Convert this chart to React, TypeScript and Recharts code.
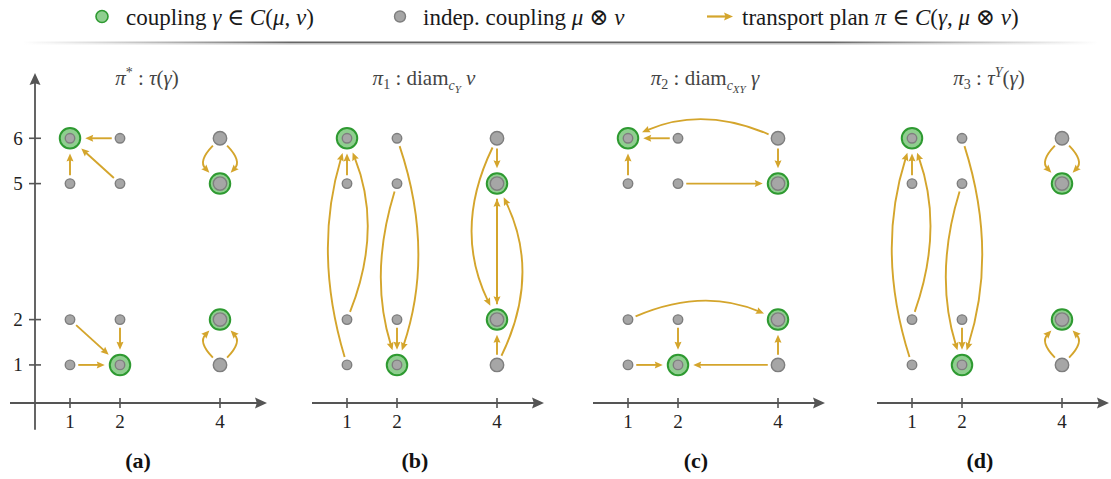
import React from 'react';
import { ScatterChart, Scatter, XAxis, YAxis, ReferenceLine } from 'recharts';

// ---------- data ----------
const X_TICKS = [1, 2, 4];
const Y_TICKS = [1, 2, 5, 6];

// independent coupling mu ⊗ nu (mu = (1/4,1/4,1/2) on {1,2,4}, nu uniform on {1,2,5,6})
const INDEP_POINTS = [
  { x: 1, y: 1, mass: 1 / 16 },
  { x: 1, y: 2, mass: 1 / 16 },
  { x: 1, y: 5, mass: 1 / 16 },
  { x: 1, y: 6, mass: 1 / 16 },
  { x: 2, y: 1, mass: 1 / 16 },
  { x: 2, y: 2, mass: 1 / 16 },
  { x: 2, y: 5, mass: 1 / 16 },
  { x: 2, y: 6, mass: 1 / 16 },
  { x: 4, y: 1, mass: 1 / 8 },
  { x: 4, y: 2, mass: 1 / 8 },
  { x: 4, y: 5, mass: 1 / 8 },
  { x: 4, y: 6, mass: 1 / 8 },
];

// coupling gamma
const GAMMA_POINTS = [
  { x: 1, y: 6, mass: 1 / 4 },
  { x: 2, y: 1, mass: 1 / 4 },
  { x: 4, y: 2, mass: 1 / 4 },
  { x: 4, y: 5, mass: 1 / 4 },
];

// transport plans: [fromX, fromY, toX, toY]
const PLAN_A = [
  [2, 6, 1, 6], [1, 5, 1, 6], [2, 5, 1, 6], [4, 6, 4, 5], [4, 6, 4, 5],
  [1, 2, 2, 1], [2, 2, 2, 1], [1, 1, 2, 1], [4, 1, 4, 2], [4, 1, 4, 2],
];
const PLAN_B = [
  [1, 5, 1, 6], [1, 1, 1, 6], [1, 2, 1, 6], [2, 6, 2, 1], [2, 5, 2, 1], [2, 2, 2, 1],
  [4, 6, 4, 5], [4, 6, 4, 2], [4, 5, 4, 2], [4, 2, 4, 5], [4, 1, 4, 2], [4, 1, 4, 5],
];
const PLAN_C = [
  [2, 6, 1, 6], [1, 5, 1, 6], [4, 6, 1, 6], [4, 6, 4, 5], [2, 5, 4, 5],
  [1, 2, 4, 2], [2, 2, 2, 1], [1, 1, 2, 1], [4, 1, 2, 1], [4, 1, 4, 2],
];
const PLAN_D = [
  [1, 5, 1, 6], [1, 1, 1, 6], [1, 2, 1, 6], [2, 6, 2, 1], [2, 5, 2, 1], [2, 2, 2, 1],
  [4, 6, 4, 5], [4, 6, 4, 5], [4, 1, 4, 2], [4, 1, 4, 2],
];

// ---------- arrow curvature (px bulge, + = left of travel direction) ----------
const BEND_A = [0, 0, 0, 11, -11, 0, 0, 0, 11, -11];
const BEND_B = [0, 17, -18, 19, -14, 0, 0, -22, 0, 0, 0, -22];
const BEND_C = [0, 0, -16, 0, 0, 16, 0, 0, 0, 0];
const BEND_D = [0, 18, -16, 18, -14, 0, 11, -11, 11, -11];

// ---------- styles ----------
const SERIF = '"Liberation Serif", "DejaVu Serif", serif';
const GOLD = '#d4a52c';
const AXIS_COLOR = '#555555';
const GREEN_FILL = '#8fce8f';
const GREEN_STROKE = '#2e9a31';
const GRAY_FILL = '#a6a6a6';
const GRAY_STROKE = '#7e7e7e';

const X_DOMAIN: [number, number] = [0.3, 4.94];
const Y_DOMAIN: [number, number] = [0.16, 7.44];

const grayR = (m: number) => 19 * Math.sqrt(m);
const greenR = (m: number) => 20.5 * Math.sqrt(m);

const isGamma = (x: number, y: number) => GAMMA_POINTS.some((p) => p.x === x && p.y === y);
const indepMass = (x: number, y: number) => {
  const p = INDEP_POINTS.find((q) => q.x === x && q.y === y);
  return p ? p.mass : 1 / 16;
};

function unit(dx: number, dy: number): [number, number] {
  const l = Math.hypot(dx, dy) || 1;
  return [dx / l, dy / l];
}

function arrowPath(p: any, opt: { bend: number; gap0: number; gap1: number; color: string; width: number; headLen: number; headW: number }) {
  const { x1, y1, x2, y2 } = p;
  if (![x1, y1, x2, y2].every((v: any) => Number.isFinite(v))) return <g />;
  const dx = x2 - x1;
  const dy = y2 - y1;
  const L = Math.hypot(dx, dy) || 1;
  const nx = dy / L;
  const ny = -dx / L;
  const cx = (x1 + x2) / 2 + nx * 2 * opt.bend;
  const cy = (y1 + y2) / 2 + ny * 2 * opt.bend;
  const u0 = unit(cx - x1, cy - y1);
  const u1 = unit(cx - x2, cy - y2);
  const sx = x1 + u0[0] * opt.gap0;
  const sy = y1 + u0[1] * opt.gap0;
  const ex = x2 + u1[0] * opt.gap1;
  const ey = y2 + u1[1] * opt.gap1;
  const tx = -u1[0];
  const ty = -u1[1];
  const bx = ex - tx * opt.headLen;
  const by = ey - ty * opt.headLen;
  const px = -ty;
  const py = tx;
  const lx = ex - tx * opt.headLen * 0.7;
  const ly = ey - ty * opt.headLen * 0.7;
  const d = opt.bend === 0 ? `M${sx},${sy} L${lx},${ly}` : `M${sx},${sy} Q${cx},${cy} ${lx},${ly}`;
  const hw = opt.headW / 2;
  const head = `M${ex},${ey} L${bx + px * hw},${by + py * hw} L${bx + tx * opt.headLen * 0.15},${by + ty * opt.headLen * 0.15} L${bx - px * hw},${by - py * hw} Z`;
  return (
    <g>
      <path d={d} fill="none" stroke={opt.color} strokeWidth={opt.width} strokeLinecap="butt" />
      <path d={head} fill={opt.color} stroke="none" />
    </g>
  );
}

const GreenDot = (p: any) => (
  <circle cx={p.cx} cy={p.cy} r={greenR(p.payload.mass)} fill={GREEN_FILL} stroke={GREEN_STROKE} strokeWidth={2} />
);
const GrayDot = (p: any) => (
  <circle cx={p.cx} cy={p.cy} r={grayR(p.payload.mass)} fill={GRAY_FILL} stroke={GRAY_STROKE} strokeWidth={1.4} />
);

const XTick = (p: any) => (
  <g>
    <line x1={p.x} x2={p.x} y1={p.y - 5} y2={p.y + 5} stroke={AXIS_COLOR} strokeWidth={1.6} />
    <text x={p.x} y={p.y + 25} textAnchor="middle" fontFamily={SERIF} fontSize={19} fill="#222">
      {p.payload.value}
    </text>
  </g>
);
const YTick = (p: any) => (
  <g>
    <line x1={p.x - 6} x2={p.x + 6} y1={p.y} y2={p.y} stroke={AXIS_COLOR} strokeWidth={1.6} />
    <text x={p.x - 17} y={p.y + 6.5} textAnchor="middle" fontFamily={SERIF} fontSize={19} fill="#222">
      {p.payload.value}
    </text>
  </g>
);

type PanelProps = { left: number; plan: number[][]; bends: number[]; showY: boolean };

function Panel({ left, plan, bends, showY }: PanelProps) {
  const axisOpt = { bend: 0, gap0: 0, gap1: 0, color: AXIS_COLOR, width: 1.8, headLen: 12, headW: 11 };
  const xAxisStart = showY ? -0.2 : X_DOMAIN[0];
  return (
    <div style={{ position: 'absolute', left, top: 0 }}>
      <ScatterChart width={275} height={479} margin={{ top: 73, right: 8, bottom: 46, left: showY ? 0 : 35 }}>
        <XAxis
          type="number"
          dataKey="x"
          domain={X_DOMAIN}
          allowDataOverflow
          ticks={X_TICKS}
          interval={0}
          axisLine={false}
          tickLine={false}
          tickSize={0}
          tickMargin={0}
          height={30}
          tick={XTick}
        />
        <YAxis
          type="number"
          dataKey="y"
          domain={Y_DOMAIN}
          allowDataOverflow
          ticks={Y_TICKS}
          interval={0}
          axisLine={false}
          tickLine={false}
          tickSize={0}
          tickMargin={0}
          width={35}
          hide={!showY}
          tick={YTick}
        />
        <ReferenceLine
          segment={[{ x: xAxisStart, y: Y_DOMAIN[0] }, { x: X_DOMAIN[1], y: Y_DOMAIN[0] }]}
          ifOverflow="visible"
          shape={(p: any) => arrowPath(p, axisOpt)}
        />
        {showY && (
          <ReferenceLine
            segment={[{ x: X_DOMAIN[0], y: -0.43 }, { x: X_DOMAIN[0], y: Y_DOMAIN[1] }]}
            ifOverflow="visible"
            shape={(p: any) => arrowPath(p, axisOpt)}
          />
        )}
        {plan.map((a, i) => {
          const [fx, fy, tx, ty] = a;
          const gap0 = isGamma(fx, fy) ? greenR(1 / 4) + 5 : grayR(indepMass(fx, fy)) + 3.5;
          const gap1 = greenR(1 / 4) + 5;
          const opt = { bend: bends[i], gap0, gap1, color: GOLD, width: 1.9, headLen: 8, headW: 7 };
          return (
            <ReferenceLine
              key={`arr-${i}`}
              segment={[{ x: fx, y: fy }, { x: tx, y: ty }]}
              ifOverflow="visible"
              shape={(p: any) => arrowPath(p, opt)}
            />
          );
        })}
        <Scatter data={GAMMA_POINTS} shape={GreenDot} isAnimationActive={false} />
        <Scatter data={INDEP_POINTS} shape={GrayDot} isAnimationActive={false} />
      </ScatterChart>
    </div>
  );
}

const I = ({ children }: { children: React.ReactNode }) => <tspan fontStyle="italic">{children}</tspan>;

function Overlay() {
  const titleProps = { textAnchor: 'middle' as const, fontFamily: SERIF, fontSize: 21, fill: '#444' };
  const labelProps = { textAnchor: 'middle' as const, fontFamily: SERIF, fontSize: 22, fontWeight: 700, fill: '#111' };
  const plotLefts = [35, 312, 593, 877];
  const ty = 85;
  return (
    <svg width={1111} height={479} style={{ position: 'absolute', left: 0, top: 0, pointerEvents: 'none' }}>
      <defs>
        <linearGradient id="sep" x1="0" x2="1" y1="0" y2="0">
          <stop offset="0" stopColor="#888" stopOpacity="0" />
          <stop offset="0.25" stopColor="#666" stopOpacity="1" />
          <stop offset="0.75" stopColor="#666" stopOpacity="1" />
          <stop offset="1" stopColor="#888" stopOpacity="0" />
        </linearGradient>
        <linearGradient id="sep2" x1="0" x2="1" y1="0" y2="0">
          <stop offset="0" stopColor="#bbb" stopOpacity="0" />
          <stop offset="0.25" stopColor="#bbb" stopOpacity="1" />
          <stop offset="0.75" stopColor="#bbb" stopOpacity="1" />
          <stop offset="1" stopColor="#bbb" stopOpacity="0" />
        </linearGradient>
      </defs>
      {/* legend */}
      <g fontFamily={SERIF} fontSize={23} fill="#1a1a1a">
        <circle cx={102} cy={16.5} r={6} fill={GREEN_FILL} stroke={GREEN_STROKE} strokeWidth={1.6} />
        <text x={126} y={25}>
          coupling <I>γ</I> ∈ <I>C</I>(<I>μ</I>, <I>ν</I>)
        </text>
        <circle cx={400} cy={16.5} r={5.5} fill={GRAY_FILL} stroke={GRAY_STROKE} strokeWidth={1.4} />
        <text x={423} y={25}>
          indep. coupling <I>μ</I> ⊗ <I>ν</I>
        </text>
        <line x1={707} x2={726} y1={16.5} y2={16.5} stroke={GOLD} strokeWidth={2.2} />
        <path d="M733,16.5 L724,12.5 L725.5,16.5 L724,20.5 Z" fill={GOLD} />
        <text x={742} y={25}>
          transport plan <I>π</I> ∈ <I>C</I>(<I>γ</I>, <I>μ</I> ⊗ <I>ν</I>)
        </text>
      </g>
      <rect x={22} y={41.5} width={1076} height={1.6} fill="url(#sep)" />
      <rect x={22} y={43.1} width={1076} height={1.4} fill="url(#sep2)" />
      {/* titles */}
      <text x={plotLefts[0] + 112} y={ty} {...titleProps}>
        <I>π</I>
        <tspan dy={-8} fontSize={14}>*</tspan>
        <tspan dy={8}> : </tspan>
        <I>τ</I>(<I>γ</I>)
      </text>
      <text x={plotLefts[1] + 112} y={ty} {...titleProps}>
        <I>π</I>
        <tspan dy={4} fontSize={14}>1</tspan>
        <tspan dy={-4}> : diam</tspan>
        <tspan dy={5} fontSize={14} fontStyle="italic">c</tspan>
        <tspan dy={3} fontSize={11} fontStyle="italic">Y</tspan>
        <tspan dy={-8}> </tspan>
        <I>ν</I>
      </text>
      <text x={plotLefts[2] + 112} y={ty} {...titleProps}>
        <I>π</I>
        <tspan dy={4} fontSize={14}>2</tspan>
        <tspan dy={-4}> : diam</tspan>
        <tspan dy={5} fontSize={14} fontStyle="italic">c</tspan>
        <tspan dy={3} fontSize={11} fontStyle="italic">XY</tspan>
        <tspan dy={-8}> </tspan>
        <I>γ</I>
      </text>
      <text x={plotLefts[3] + 112} y={ty} {...titleProps}>
        <I>π</I>
        <tspan dy={4} fontSize={14}>3</tspan>
        <tspan dy={-4}> : </tspan>
        <I>τ</I>
        <tspan dy={-8} fontSize={14} fontStyle="italic">Y</tspan>
        <tspan dy={8}>(</tspan>
        <I>γ</I>)
      </text>
      {/* sub-figure labels */}
      <text x={plotLefts[0] + 103} y={468} {...labelProps}>(a)</text>
      <text x={plotLefts[1] + 103} y={468} {...labelProps}>(b)</text>
      <text x={plotLefts[2] + 103} y={468} {...labelProps}>(c)</text>
      <text x={plotLefts[3] + 103} y={468} {...labelProps}>(d)</text>
    </svg>
  );
}

export default function App() {
  return (
    <div style={{ position: 'absolute', left: 0, top: 0, width: 1111, height: 479, overflow: 'hidden', background: '#fff' }}>
      <Panel left={0} plan={PLAN_A} bends={BEND_A} showY />
      <Panel left={277} plan={PLAN_B} bends={BEND_B} showY={false} />
      <Panel left={558} plan={PLAN_C} bends={BEND_C} showY={false} />
      <Panel left={842} plan={PLAN_D} bends={BEND_D} showY={false} />
      <Overlay />
    </div>
  );
}
